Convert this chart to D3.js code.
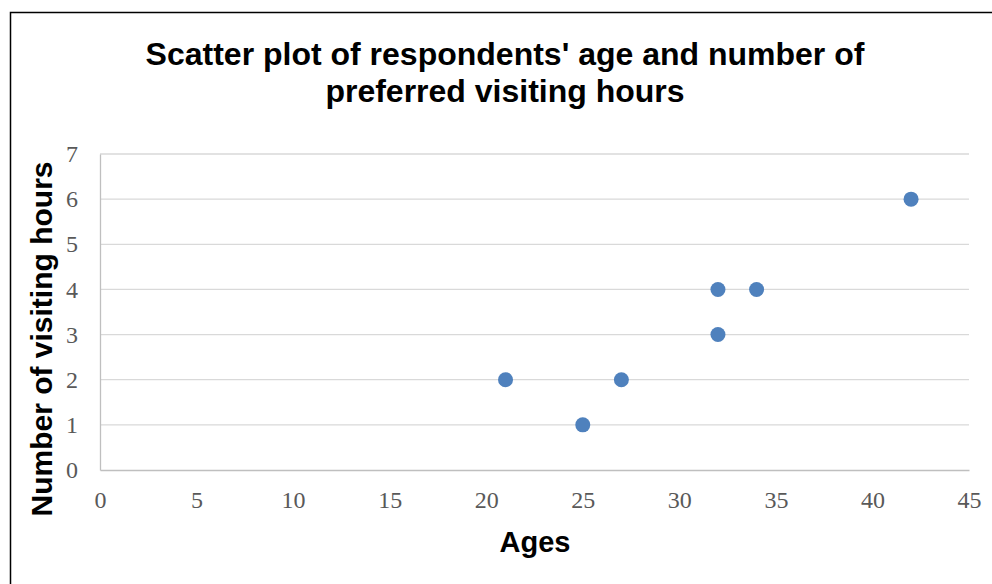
<!DOCTYPE html>
<html><head><meta charset="utf-8">
<script src="https://cdn.jsdelivr.net/npm/d3@7"></script>
<style>body{margin:0;background:#fff}</style>
</head><body>
<svg id="c" width="992" height="584"></svg>
<script>
const ages = [21, 25, 27, 32, 32, 34, 42];
const hours = [2, 1, 2, 4, 3, 4, 6];
const xTicks = [0, 5, 10, 15, 20, 25, 30, 35, 40, 45];
const yTicks = [0, 1, 2, 3, 4, 5, 6, 7];
const titleLines = ["Scatter plot of respondents' age and number of", "preferred visiting hours"];

const svg = d3.select("#c");
svg.append("rect").attr("x", 10.5).attr("y", 12.5).attr("width", 992).attr("height", 600)
  .attr("fill", "#fff").attr("stroke", "#000").attr("stroke-width", 1.5);

const x = d3.scaleLinear().domain([0, 45]).range([100, 969]);
const y = d3.scaleLinear().domain([0, 7]).range([470, 154]);

// gridlines
svg.append("g").selectAll("line").data(yTicks.filter(d => d > 0)).join("line")
  .attr("x1", x(0)).attr("x2", x(45)).attr("y1", d => y(d)).attr("y2", d => y(d))
  .attr("stroke", "#d9d9d9").attr("stroke-width", 1.3);

// axes
const xa = svg.append("g").attr("transform", `translate(0,${y(0)})`)
  .call(d3.axisBottom(x).tickValues(xTicks).tickFormat(d3.format("d")).tickSize(0).tickPadding(21));
const ya = svg.append("g").attr("transform", `translate(${x(0)},0)`)
  .call(d3.axisLeft(y).tickValues(yTicks).tickFormat(d3.format("d")).tickSize(0).tickPadding(22));
[xa, ya].forEach(a => {
  a.select(".domain").attr("stroke", "#bfbfbf").attr("stroke-width", 1.3);
  a.selectAll("text").attr("font-family", "'Liberation Serif', 'DejaVu Serif', serif")
    .attr("font-size", 24).attr("fill", "#595959");
});
xa.selectAll("text").attr("dy", "0.71em");

// points
svg.append("g").selectAll("circle").data(ages.map((a, i) => [a, hours[i]])).join("circle")
  .attr("cx", d => x(d[0])).attr("cy", d => y(d[1])).attr("r", 7.5)
  .attr("fill", "#4f81bd");

// title
svg.append("g").selectAll("text").data(titleLines).join("text")
  .attr("x", 505).attr("y", (d, i) => 65 + i * 37)
  .attr("text-anchor", "middle").attr("font-family", "'Liberation Sans', Arial, sans-serif")
  .attr("font-weight", "bold").attr("font-size", 32).attr("fill", "#000").text(d => d);

// axis titles
svg.append("text").attr("x", 535).attr("y", 552).attr("text-anchor", "middle")
  .attr("font-family", "'Liberation Sans', Arial, sans-serif").attr("font-weight", "bold")
  .attr("font-size", 29).text("Ages");
svg.append("text").attr("transform", "translate(52,339) rotate(-90)").attr("text-anchor", "middle")
  .attr("font-family", "'Liberation Sans', Arial, sans-serif").attr("font-weight", "bold")
  .attr("font-size", 30).text("Number of visiting hours");
</script>
</body></html>
